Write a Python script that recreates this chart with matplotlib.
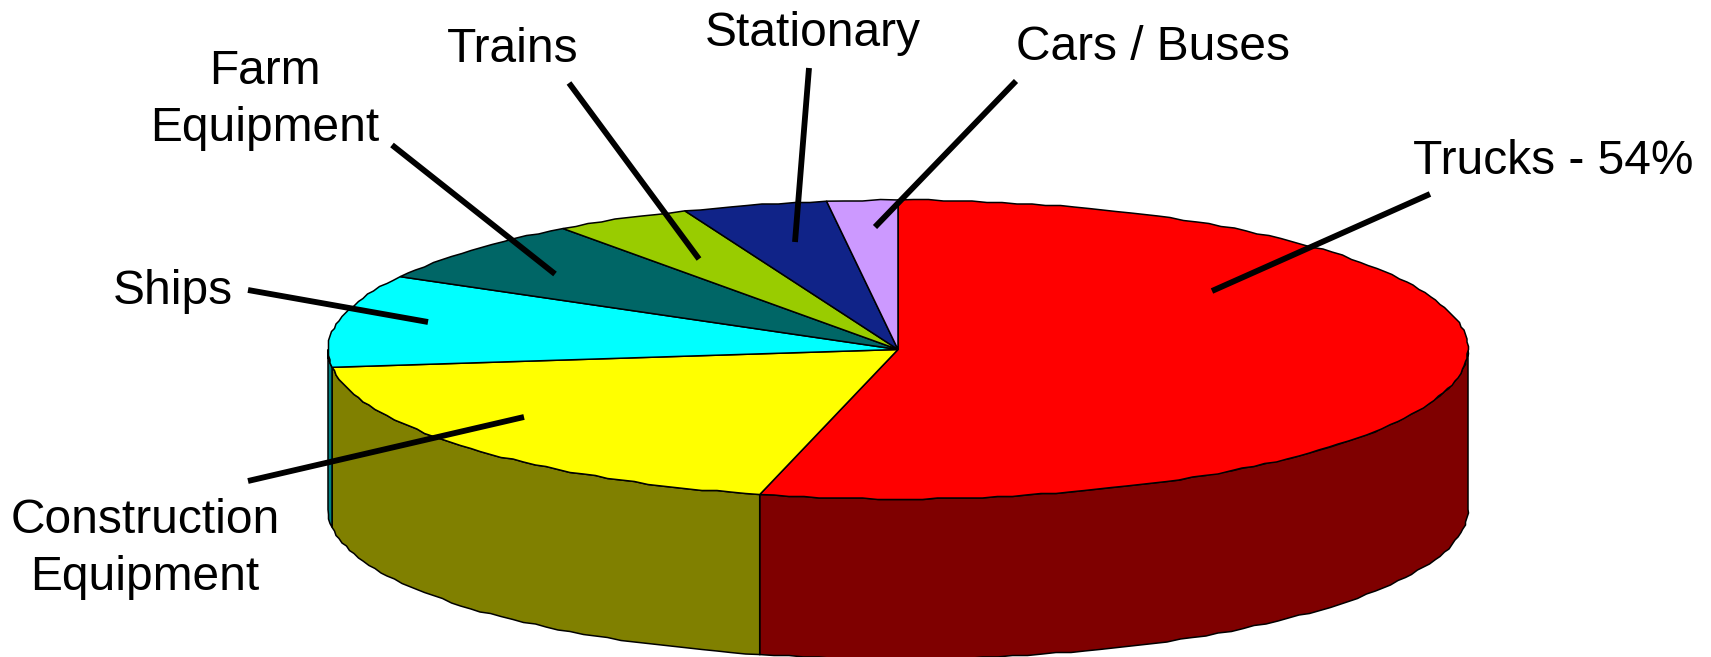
import numpy as np
from matplotlib import pyplot as plt
from matplotlib.patches import Polygon

plt.rcParams["font.family"] = ["Liberation Sans", "DejaVu Sans"]

# clockwise from 12 o'clock
categories = ["Trucks", "Construction", "Ships", "Farm", "Trains", "Stationary", "Cars"]
shares = [53.9, 19.2, 10.0, 6.9, 3.9, 4.1, 2.0]
top_colors = ["#ff0000", "#ffff00", "#00ffff", "#006666", "#99cc00", "#102388", "#cc99ff"]
side_colors = ["#7f0000", "#808000", "#008080", "#003333", "#4c6600", "#081144", "#664c7f"]

labels = [
    "Trucks - 54%",
    "Construction\nEquipment",
    "Ships",
    "Farm\nEquipment",
    "Trains",
    "Stationary",
    "Cars / Buses",
]
label_pos = [(1553, 161), (145, 549), (173, 291), (265, 100), (513, 49), (813, 34), (1153, 47)]
leaders = [
    ((1430, 194), (1212, 291)),
    ((248, 481), (524, 417)),
    ((248, 290), (428, 322)),
    ((392, 145), (555, 274)),
    ((569, 83), (699, 259)),
    ((809, 68), (795, 242)),
    ((1016, 81), (875, 227)),
]

CX, CY = 898, 349.5
A, B = 570, 149.5
DEPTH = 160


def arc(start, stop, dy=0):
    # angles in degrees, clockwise from top; snapped to a coarse grid for the rough edge
    n = max(int(abs(stop - start) / 1.5), 1) + 1
    t = np.radians(np.linspace(start, stop, n))
    x = CX + A * np.sin(t)
    y = CY - B * np.cos(t) + dy
    x[1:-1] = np.round(x[1:-1] / 1.5) * 1.5
    y[1:-1] = np.round(y[1:-1] / 1.5) * 1.5
    return np.column_stack([x, y])


fig = plt.figure(figsize=(17.11, 6.57), dpi=100)
ax = fig.add_axes([0, 0, 1, 1])
ax.set_xlim(0, 1711)
ax.set_ylim(657, 0)
ax.axis("off")

edges = np.concatenate([[0], np.cumsum(shares)]) / sum(shares) * 360

# side walls, only the front half of the disc shows
for i in range(len(shares)):
    start, stop = max(edges[i], 90), min(edges[i + 1], 270)
    if stop <= start:
        continue
    wall = np.vstack([arc(start, stop), arc(start, stop, DEPTH)[::-1]])
    ax.add_patch(Polygon(wall, closed=True, fc=side_colors[i], ec="black", lw=1.1, zorder=1))

# top face
for i in range(len(shares)):
    verts = np.vstack([[[CX, CY]], arc(edges[i], edges[i + 1])])
    ax.add_patch(Polygon(verts, closed=True, fc=top_colors[i], ec="black", lw=1.1, zorder=2))

for (p0, p1) in leaders:
    ax.plot([p0[0], p1[0]], [p0[1], p1[1]], color="black", lw=4.2, solid_capstyle="butt", zorder=3)

for text, (x, y) in zip(labels, label_pos):
    ax.text(x, y, text, ha="center", va="center", fontsize=34.5, color="black",
            linespacing=1.33, zorder=4)

fig.savefig("out.png", dpi=100, facecolor="white")
